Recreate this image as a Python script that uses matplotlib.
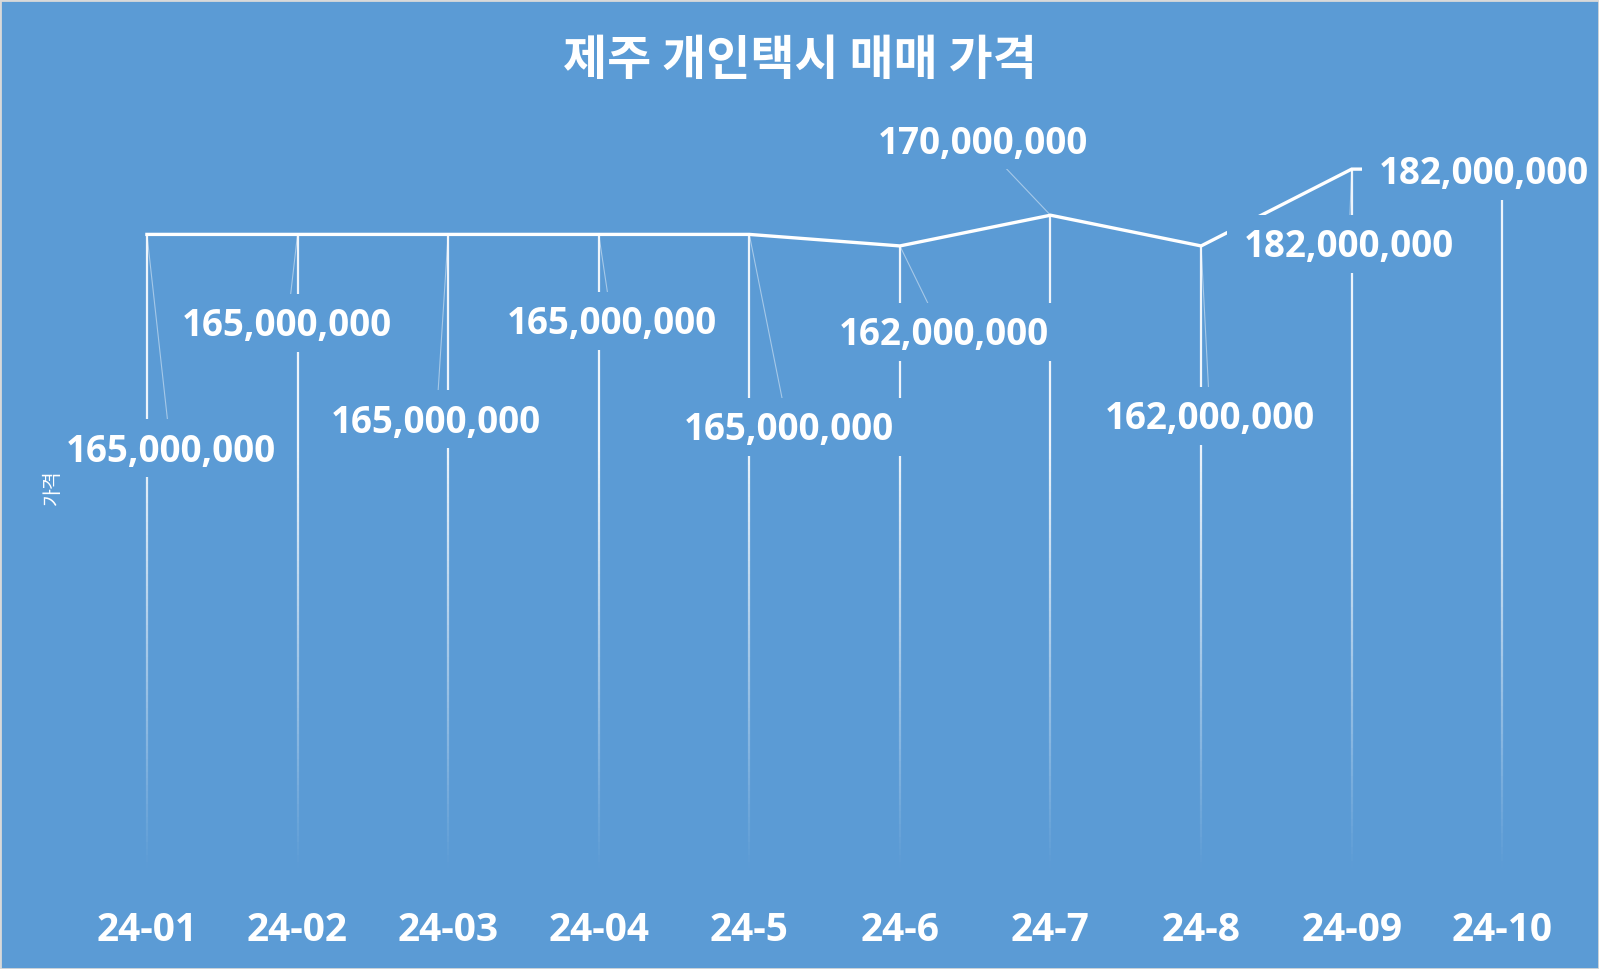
import numpy as np
import matplotlib.pyplot as plt
from matplotlib.collections import LineCollection
from matplotlib.patches import Rectangle

# Data
months = ['24-01', '24-02', '24-03', '24-04', '24-5', '24-6', '24-7', '24-8', '24-09', '24-10']
prices = [165000000, 165000000, 165000000, 165000000, 165000000,
          162000000, 170000000, 162000000, 182000000, 182000000]

# where each data label was dragged to (category units, won)
label_x = [0.16, 0.93, 1.92, 3.09, 4.26, 5.29, 5.55, 7.06, 7.98, 8.88]
label_y = [108.4e6, 141.1e6, 115.9e6, 141.6e6, 114.0e6, 138.7e6, 188.6e6, 116.9e6, 161.6e6, 180.6e6]

bg = '#5B9BD5'
num_font = 'Open Sans'
kr_font = ['Noto Sans CJK KR', 'DejaVu Sans']

fig = plt.figure(figsize=(15.99, 9.69), dpi=100, facecolor=bg)
ax = fig.add_axes([0.0448, 0.1042, 0.9418, 0.7926])
ax.set_facecolor(bg)
x = np.arange(len(months))
ax.set_xlim(-0.5, len(months) - 0.5)
ax.set_ylim(0, 200e6)

for s in ax.spines.values():
    s.set_visible(False)
ax.set_yticks([])
ax.set_xticks(x)
ax.set_xticklabels(months, fontsize=28, fontweight='bold', color='white', family=num_font)
ax.tick_params(axis='x', length=0, pad=31)

# drop lines fading out towards the bottom
segs, cols = [], []
for i, v in enumerate(prices):
    ys = np.linspace(v, 0, 100)
    for a, b in zip(ys[:-1], ys[1:]):
        m = (a + b) / 2
        alpha = 0.9 * min(1.0, m / 110e6)
        segs.append([(i, a), (i, b)])
        cols.append((1, 1, 1, alpha))
ax.add_collection(LineCollection(segs, colors=cols, linewidths=1.6, zorder=2, capstyle='butt'))

# main line
ax.plot(x, prices, color='white', lw=2.4, zorder=3, solid_joinstyle='miter')

# data labels with leader lines
texts = []
for i, v in enumerate(prices):
    ax.plot([i, label_x[i]], [v, label_y[i]], color='white', alpha=0.45, lw=0.8, zorder=4)
    t = ax.text(label_x[i], label_y[i], f'{v:,}', ha='center', va='center', fontsize=26.5,
                fontweight='bold', family=num_font, color='white', zorder=6)
    texts.append(t)

# solid label boxes (wider vertical padding than matplotlib's bbox allows)
fig.canvas.draw()
r = fig.canvas.get_renderer()
inv = ax.transData.inverted()
for t in texts:
    bb = t.get_window_extent(r)
    cx = (bb.x0 + bb.x1) / 2
    cy = (bb.y0 + bb.y1) / 2 + 3.5
    w = bb.width + 34
    h = 58
    (x0, y0), (x1, y1) = inv.transform([(cx - w / 2, cy - h / 2), (cx + w / 2, cy + h / 2)])
    ax.add_patch(Rectangle((x0, y0), x1 - x0, y1 - y0, fc=bg, ec='none', zorder=5))

fig.text(0.5, 0.938, '제주 개인택시 매매 가격', ha='center', va='center', fontsize=34.5,
         fontweight='bold', color='white', family=kr_font)
fig.text(0.0325, 0.497, '가격', ha='center', va='center', rotation=90, fontsize=14,
         color='white', family=kr_font)

fig.patches.append(Rectangle((0, 0), 1, 1, transform=fig.transFigure, fill=False,
                             ec='#D9D9D9', lw=2))

fig.savefig('out.png', dpi=100, facecolor=bg)
